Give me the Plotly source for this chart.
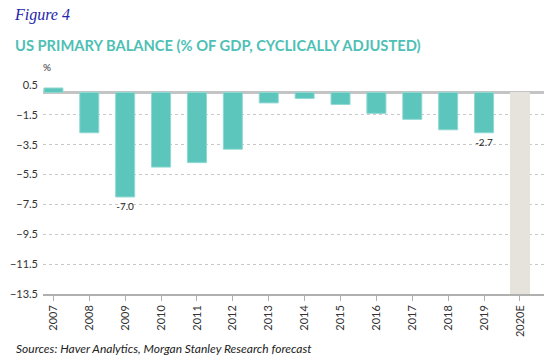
import plotly.graph_objects as go

years = ["2007", "2008", "2009", "2010", "2011", "2012", "2013", "2014",
         "2015", "2016", "2017", "2018", "2019", "2020E"]
values = [0.3, -2.7, -7.0, -5.0, -4.7, -3.8, -0.7, -0.4, -0.8, -1.4, -1.8, -2.5, -2.7, -15.0]
labels = ["", "", "-7.0", "", "", "", "", "", "", "", "", "", "-2.7", ""]
colors = ["#5CC5BC"] * 13 + ["#E6E3DC"]
line_colors = ["#8FD9D2"] * 13 + ["#E6E3DC"]

W, H = 558, 363
L, R, T, B = 43, 14, 85, 69

fig = go.Figure(go.Bar(
    x=years, y=values, text=labels, textposition="outside",
    textfont=dict(family="Lato", size=10, color="#222222"),
    marker=dict(color=colors, line=dict(color=line_colors, width=1)),
    width=0.53, cliponaxis=True,
))

fig.update_layout(
    width=W, height=H,
    margin=dict(l=L, r=R, t=T, b=B, autoexpand=False),
    paper_bgcolor="white", plot_bgcolor="white",
    showlegend=False,
    font=dict(family="Lato", color="#333333"),
    xaxis=dict(type="category", range=[-0.29, 13.67], tickangle=-90,
               ticks="outside", ticklen=5, tickcolor="#b0b0b0", automargin=False,
               showline=True, linecolor="#b0b0b0", linewidth=1.5,
               showgrid=False, tickfont=dict(size=11, color="#333333")),
    yaxis=dict(range=[-13.5, 0.5], tick0=0.5, dtick=2, tickformat=".1f", automargin=False,
               showgrid=True, gridcolor="#c8c8c8", griddash="dot", gridwidth=1,
               zeroline=True, zerolinecolor="#c4c4c4", zerolinewidth=2.5,
               ticks="", tickfont=dict(size=11, color="#333333"),
               ticklabelstandoff=4),
)

pw, ph = W - L - R, H - T - B
def ann(text, px, py, size, family, color, anchor="left"):
    fig.add_annotation(text=text, xref="paper", yref="paper",
                       x=(px - L) / pw, y=1 - (py - T) / ph,
                       showarrow=False, xanchor=anchor, yanchor="middle",
                       font=dict(family=family, size=size, color=color))

ann("<i>Figure 4</i>", 12, 15, 16, "Liberation Serif", "#2525A8")
ann("<b>US PRIMARY BALANCE (% OF GDP, CYCLICALLY ADJUSTED)</b>", 13, 45, 14.7, "Lato", "#4EC0B5")
ann("%", 47, 67, 10, "Lato", "#333333", "center")
ann("<i>Sources: Haver Analytics, Morgan Stanley Research forecast</i>", 14, 348, 12, "Lato", "#222222")

fig.write_html("out.html", config={"displayModeBar": False},
               post_script="document.body.style.margin='0';")
